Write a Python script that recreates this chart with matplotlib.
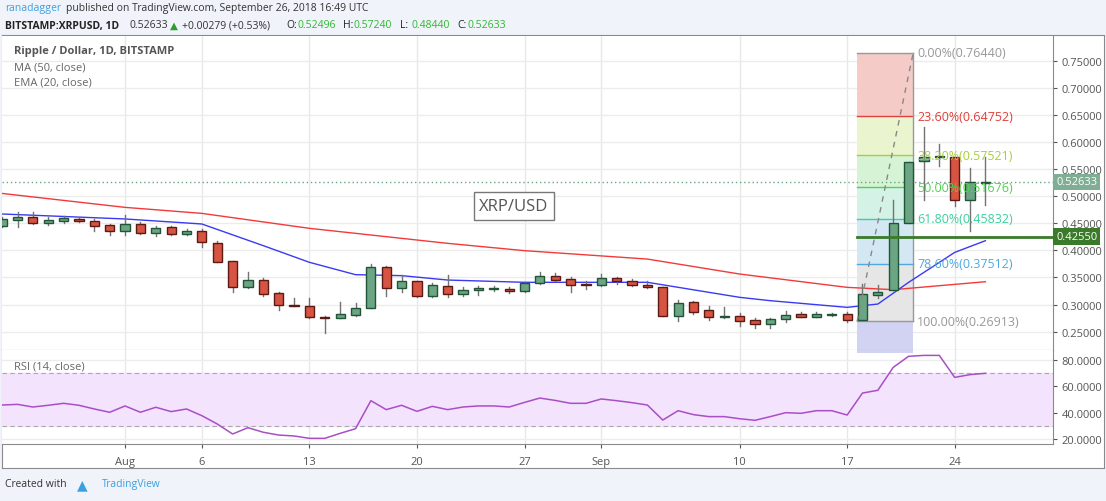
import matplotlib
matplotlib.use("Agg")
import matplotlib.pyplot as plt
import matplotlib.dates as mdates
from matplotlib.patches import Rectangle
import numpy as np
import pandas as pd

plt.rcParams["font.family"] = "Open Sans"

dates = pd.date_range("2018-07-24", "2018-09-26", freq="D")
opens = [.4456,.4567,.4610,.4505,.4548,.4573,.4542,.4462,.4352,.4487,.4320,.4425,.4308,.4364,.4136,.3804,.3330,.3453,.3214,.2992,.2974,.2777,.2759,.2808,.2937,.3687,.3300,.3435,.3153,
         .3349,.3189,.3270,.3288,.3294,.3251,.3398,.3521,.3472,.3386,.3361,.3490,.3435,.3361,.3318,.2796,.3054,.2900,.2771,.2783,.2716,.2642,.2728,.2820,.2777,.2802,.2826,
         .2722,.3176,.3275,.4505,.5643,.5716,.5716,.4929,.52496]
highs = [.4620,.4700,.4700,.4610,.4628,.4590,.4580,.4487,.4653,.4517,.4456,.4456,.4395,.4395,.4179,.3804,.3607,.3484,.3226,.3121,.3121,.2796,.3041,.3029,.3749,.3718,.3546,.3435,.3398,
         .3546,.3318,.3349,.3349,.3318,.3423,.3595,.3583,.3503,.3441,.3564,.3509,.3472,.3441,.3318,.3090,.3072,.2968,.2949,.2845,.2747,.2747,.2888,.2869,.2869,.2845,.2857,
         .3380,.3360,.4930,.5624,.6270,.5963,.5724,.5520,.5724]
lows = [.4440,.4425,.4480,.4470,.4505,.4530,.4364,.4290,.4290,.4302,.4272,.4290,.4290,.4056,.3780,.3226,.3300,.3152,.2906,.2968,.2746,.2476,.2746,.2783,.2937,.3152,.3226,.3140,.3140,
        .3134,.3152,.3183,.3257,.3214,.3238,.3380,.3441,.3238,.3287,.3349,.3380,.3349,.3312,.2796,.2703,.2826,.2722,.2746,.2611,.2562,.2562,.2685,.2765,.2765,.2790,.2685,
        .2722,.3127,.3260,.4505,.4930,.5563,.4825,.4364,.4844]
closes = [.4580,.4610,.4505,.4554,.4592,.4536,.4456,.4352,.4481,.4320,.4407,.4308,.4364,.4149,.3792,.3330,.3453,.3195,.2992,.2968,.2765,.2746,.2826,.2943,.3687,.3300,.3435,.3165,.3361,
          .3189,.3275,.3300,.3312,.3245,.3398,.3521,.3460,.3368,.3361,.3484,.3429,.3368,.3318,.2796,.3029,.2869,.2771,.2783,.2703,.2642,.2734,.2814,.2777,.2832,.2826,.2722,
          .3201,.3238,.4505,.5624,.5716,.5735,.4929,.5255,.52633]
rsi = [45.8,46.3,44.3,45.6,47.1,45.6,42.8,40.3,45.1,40.3,44.1,40.8,42.8,37.7,31.4,23.8,28.6,25.1,23.0,22.3,20.5,20.5,24.3,27.8,49.1,42.3,45.6,41.0,44.8,42.3,44.3,45.1,45.1,44.3,47.8,51.1,49.3,
       47.1,47.1,50.4,49.1,47.6,45.8,34.4,41.5,38.5,37.0,37.0,35.4,34.2,37.0,40.0,39.5,41.5,41.5,38.2,54.9,57.0,74.4,82.8,83.5,83.5,66.8,68.9,69.9]

ema_dates = ["2018-07-23","2018-08-01","2018-08-06","2018-08-10","2018-08-13","2018-08-16","2018-08-19","2018-08-22","2018-08-27","2018-09-04","2018-09-10","2018-09-12","2018-09-17","2018-09-19","2018-09-21","2018-09-24","2018-09-26"]
ema_vals = [.4683,.458,.4487,.4087,.378,.3552,.3534,.3453,.3411,.3411,.3134,.3072,.2949,.301,.341,.3963,.4179]
ma_dates = ["2018-07-23","2018-08-01","2018-08-06","2018-08-13","2018-08-17","2018-08-22","2018-08-27","2018-09-04","2018-09-10","2018-09-17","2018-09-20","2018-09-26"]
ma_vals = [.5083,.4794,.4683,.4407,.4284,.413,.3995,.384,.3564,.3318,.3275,.3422]

fib_pcts = ["0.00%", "23.60%", "38.20%", "50.00%", "61.80%", "78.60%", "100.00%"]
fib_vals = [0.76440, 0.64752, 0.57521, 0.51676, 0.45832, 0.37512, 0.26913]
fib_line_colors = ["#999999", "#e0403b", "#a8cf3a", "#4fd34f", "#3ccf9e", "#4fa9e0", "#999999"]
fib_fill_colors = ["#f4cbc7", "#eaf4cf", "#d6f3d6", "#d4f3e6", "#d4e8f4", "#e6e6e6"]
price_ticks = [0.25, 0.30, 0.35, 0.40, 0.45, 0.50, 0.55, 0.60, 0.65, 0.70, 0.75]
rsi_ticks = [20, 40, 60, 80]
week_ticks = ["2018-08-01","2018-08-06","2018-08-13","2018-08-20","2018-08-27","2018-09-01","2018-09-10","2018-09-17","2018-09-24"]
week_labels = ["Aug", "6", "13", "20", "27", "Sep", "10", "17", "24"]
last_price = 0.52633
support = 0.42550

W, H = 1106, 502
fig = plt.figure(figsize=(W/100, H/100), dpi=100, facecolor="#f0f3fa")

def fb(x0, y0, x1, y1):
    return [x0/W, 1-y1/H, (x1-x0)/W, (y1-y0)/H]

# white frame (background axes)
bg = fig.add_axes(fb(2, 36, 1104, 469), zorder=-5)
bg.set_xticks([]); bg.set_yticks([])
bg.set_facecolor("white")
for s in bg.spines.values():
    s.set_color("#8a8a8a")

ax = fig.add_axes(fb(2, 37, 1053, 351))
ar = fig.add_axes(fb(2, 351, 1053, 445), sharex=ax)
for a in (ax, ar):
    a.set_facecolor("white")
    for s in a.spines.values():
        s.set_color("#8a8a8a")
    a.spines["left"].set_visible(False)
    a.spines["top"].set_visible(False)

dn = mdates.date2num(dates)
aug1 = mdates.date2num(pd.Timestamp("2018-08-01"))
ax.set_xlim(aug1 - 8.01, aug1 + 60.4)
ax.set_ylim(0.2162, 0.7956)
ar.set_ylim(16.2, 87.6)

wt = mdates.date2num(pd.to_datetime(week_ticks))
for a in (ax, ar):
    for x in wt:
        a.axvline(x, color="#e8e8e8", lw=1, zorder=0)
for p in price_ticks:
    ax.axhline(p, color="#ececec", lw=1, zorder=0)
for r in rsi_ticks:
    ar.axhline(r, color="#ececec", lw=1, zorder=0)

# fib box
f0 = mdates.date2num(pd.Timestamp("2018-09-18")) - 0.35
f1 = mdates.date2num(pd.Timestamp("2018-09-21")) + 0.3
for i in range(6):
    ax.add_patch(Rectangle((f0, fib_vals[i+1]), f1-f0, fib_vals[i]-fib_vals[i+1],
                           facecolor=fib_fill_colors[i], edgecolor="none", zorder=1))
ax.add_patch(Rectangle((f0, 0.2162), f1-f0, fib_vals[6]-0.2162, facecolor="#d2d2f3", edgecolor="none", zorder=1))
ar.add_patch(Rectangle((f0, 85.5), f1-f0, 3, facecolor="#d2d2f3", edgecolor="none", zorder=1))
for v, c, pc in zip(fib_vals, fib_line_colors, fib_pcts):
    ax.plot([f0, f1], [v, v], color=c, lw=1, zorder=2)
    ax.text(f1 + 0.25, v, f"{pc}({v:.5f})", color=c, fontsize=9, va="center", ha="left", zorder=6)
ax.plot([f1, f1], [fib_vals[6], fib_vals[0]], color="#999999", lw=1, zorder=2)
ax.plot([f0, f1], [fib_vals[6], fib_vals[0]], color="#888888", lw=1, ls=(0, (4, 4)), zorder=5)

# MAs
ax.plot(mdates.date2num(pd.to_datetime(ma_dates)), ma_vals, color="#f23a3a", lw=1, zorder=3)
ax.plot(mdates.date2num(pd.to_datetime(ema_dates)), ema_vals, color="#3a3af2", lw=1, zorder=3)

# candles
bw = 0.6
for x, o, h, l, c in zip(dn, opens, highs, lows, closes):
    up = c >= o
    fc = "#6ba583" if up else "#d75442"
    ec = "#225437" if up else "#5b1a13"
    ax.plot([x, x], [l, h], color="#737375", lw=1, zorder=4)
    ax.add_patch(Rectangle((x - bw/2, min(o, c)), bw, max(abs(c - o), 0.0008),
                           facecolor=fc, edgecolor=ec, lw=1, zorder=4))

ax.axhline(last_price, color="#6ba583", lw=1, ls=(0, (1, 2)), zorder=2)
ax.plot([f0, ax.get_xlim()[1]], [support, support], color="#3a7a2a", lw=2, zorder=5)

ax.yaxis.tick_right()
ax.set_yticks(price_ticks)
ax.set_yticklabels([f"{p:.5f}" for p in price_ticks])
ax.tick_params(axis="y", colors="#555555", labelsize=8, length=3, pad=3)
ax.tick_params(axis="x", length=0, labelbottom=False)
for v, bgc in ((last_price, "#7fae94"), (support, "#3a7a2a")):
    ax.text(1.003, v, f"{v:.5f}", transform=ax.get_yaxis_transform(), color="white", fontsize=8,
            va="center", ha="left", zorder=10, clip_on=False,
            bbox=dict(boxstyle="square,pad=0.25", facecolor=bgc, edgecolor="none"))

ax.text(12/1051, 1-15/314, "Ripple / Dollar, 1D, BITSTAMP", transform=ax.transAxes, fontsize=8, color="#555555", fontweight="bold", va="center")
ax.text(12/1051, 1-31/314, "MA (50, close)", transform=ax.transAxes, fontsize=8, color="#666666", va="center")
ax.text(12/1051, 1-46/314, "EMA (20, close)", transform=ax.transAxes, fontsize=8, color="#666666", va="center")
ax.text(512/1051, 1-170/314, "XRP/USD", transform=ax.transAxes, fontsize=12, color="#555555", ha="center", va="center",
        bbox=dict(boxstyle="square,pad=0.35", facecolor="white", edgecolor="#777777"))

# RSI
ar.axhspan(30, 70, color="#f3e3fd", zorder=0)
ar.axhline(30, color="#aaaaaa", lw=0.8, ls=(0, (4, 3)))
ar.axhline(70, color="#aaaaaa", lw=0.8, ls=(0, (4, 3)))
ar.plot(dn, rsi, color="#a94fc6", lw=1.1, zorder=3)
ar.yaxis.tick_right()
ar.set_yticks(rsi_ticks)
ar.set_yticklabels([f"{r:.4f}" for r in rsi_ticks])
ar.tick_params(axis="y", colors="#555555", labelsize=8, length=3, pad=3)
ar.set_xticks(wt)
ar.set_xticklabels(week_labels)
ar.tick_params(axis="x", colors="#555555", labelsize=8, length=3, pad=6)
ar.text(12/1051, 1-16/94, "RSI (14, close)", transform=ar.transAxes, fontsize=8, color="#666666", va="center")

# header/footer
fs = 7.5
fig.text(5/W, 1-9/H, "ranadagger", color="#3ba0e0", fontsize=fs, va="center")
fig.text(66/W, 1-9/H, "published on TradingView.com, September 26, 2018 16:49 UTC", color="#333333", fontsize=fs, va="center")
fig.text(5/W, 1-26/H, "BITSTAMP:XRPUSD, 1D", color="#222222", fontsize=fs, fontweight="bold", va="center")
fig.text(129/W, 1-26/H, "0.52633", color="#333333", fontsize=fs, va="center")
fig.text(170/W, 1-26/H, "\u25B2", color="#2ca02c", fontsize=fs, va="center", family="DejaVu Sans")
fig.text(182/W, 1-26/H, "+0.00279 (+0.53%)", color="#333333", fontsize=fs, va="center")
xs = 286
for lab, val in (("O:", "0.52496"), ("H:", "0.57240"), ("L:", "0.48440"), ("C:", "0.52633")):
    fig.text(xs/W, 1-26/H, lab, color="#222222", fontsize=fs, va="center")
    fig.text((xs+11)/W, 1-26/H, val, color="#2eb82e", fontsize=fs, va="center")
    xs += 57
fig.text(5/W, 1-485/H, "Created with", color="#333333", fontsize=fs, va="center")
fig.text(77/W, 1-485/H, "\u25B2", color="#3ba0e0", fontsize=10, va="center", family="DejaVu Sans")
fig.text(102/W, 1-485/H, "TradingView", color="#3ba0e0", fontsize=fs, va="center")

fig.savefig("out.png", dpi=100, facecolor=fig.get_facecolor())
